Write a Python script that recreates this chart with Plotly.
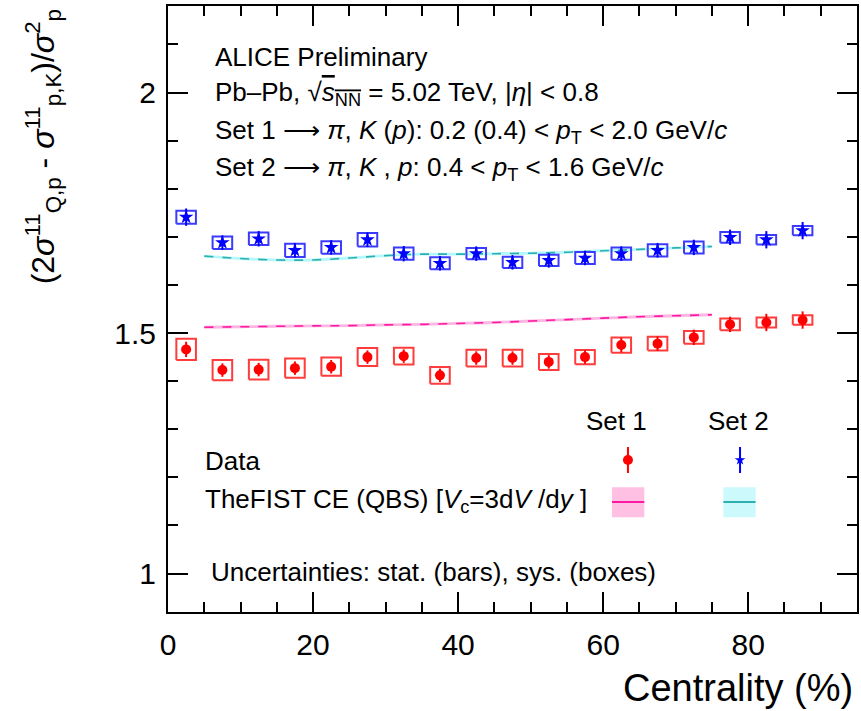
import plotly.graph_objects as go

# ---------------- data ----------------
centrality = [2.5, 7.5, 12.5, 17.5, 22.5, 27.5, 32.5, 37.5, 42.5, 47.5,
              52.5, 57.5, 62.5, 67.5, 72.5, 77.5, 82.5, 87.5]
set1_val = [1.466, 1.423, 1.424, 1.427, 1.430, 1.450, 1.452, 1.412, 1.448, 1.448,
            1.440, 1.450, 1.475, 1.478, 1.491, 1.518, 1.522, 1.527]
set1_stat = [0.016, 0.014, 0.014, 0.014, 0.014, 0.014, 0.014, 0.014, 0.014, 0.014,
             0.014, 0.014, 0.015, 0.015, 0.016, 0.016, 0.018, 0.018]
set1_sys = [0.022, 0.021, 0.0205, 0.020, 0.019, 0.0187, 0.0173, 0.0173, 0.0173, 0.0173,
            0.0166, 0.015, 0.016, 0.0145, 0.013, 0.012, 0.0104, 0.010]
set2_val = [1.741, 1.688, 1.696, 1.672, 1.678, 1.694, 1.665, 1.645, 1.665, 1.647,
            1.651, 1.656, 1.665, 1.672, 1.678, 1.699, 1.694, 1.713]
set2_stat = [0.018, 0.015, 0.016, 0.015, 0.015, 0.015, 0.016, 0.015, 0.015, 0.015,
             0.015, 0.015, 0.015, 0.015, 0.016, 0.016, 0.018, 0.018]
set2_sys = [0.0135, 0.013, 0.013, 0.0139, 0.013, 0.0139, 0.0128, 0.0125, 0.0118, 0.0118,
            0.0118, 0.0125, 0.0128, 0.0128, 0.0125, 0.011, 0.010, 0.0097]

model_cent = [5, 10, 15, 20, 25, 30, 35, 40, 45, 50, 55, 60, 65, 70, 75]
thefist_set1 = [1.512, 1.513, 1.514, 1.515, 1.5155, 1.517, 1.518, 1.520, 1.522, 1.525,
                1.528, 1.531, 1.534, 1.536, 1.538]
thefist_set2 = [1.660, 1.655, 1.652, 1.652, 1.656, 1.661, 1.664, 1.664, 1.665, 1.666,
                1.668, 1.671, 1.674, 1.677, 1.680]
thefist_unc = 0.003

# ---------------- style ----------------
FONT = "Liberation Sans, Arial, Helvetica, sans-serif"
RED, BLUE = "#ff0000", "#0000ff"
RED_BOX, BLUE_BOX = "#ff3b3b", "#3b3bff"
MAG_LINE, MAG_BAND = "#ff1aa3", "rgba(255,120,200,0.55)"
CYA_LINE, CYA_BAND = "#2fb0b0", "rgba(120,240,245,0.55)"
BOX_HW = 1.35  # half width of sys boxes (centrality units)

L, R, T, B = 168, 2, 6, 99
W, H = 861, 711
PW, PH = W - L - R, H - T - B


def px(xp):
    return (xp - L) / PW


def py(yp):
    return (H - B - yp) / PH


def boxes(xs, ys, es):
    bx, by = [], []
    for x, y, e in zip(xs, ys, es):
        bx += [x - BOX_HW, x + BOX_HW, x + BOX_HW, x - BOX_HW, x - BOX_HW, None]
        by += [y - e, y - e, y + e, y + e, y - e, None]
    return bx, by


fig = go.Figure()

# model bands
for vals, band, line in [(thefist_set1, MAG_BAND, MAG_LINE), (thefist_set2, CYA_BAND, CYA_LINE)]:
    fig.add_trace(go.Scatter(x=model_cent, y=[v + thefist_unc for v in vals], mode="lines",
                             line=dict(width=0, shape="spline"), showlegend=False, hoverinfo="skip"))
    fig.add_trace(go.Scatter(x=model_cent, y=[v - thefist_unc for v in vals], mode="lines",
                             line=dict(width=0, shape="spline"), fill="tonexty", fillcolor=band,
                             showlegend=False, hoverinfo="skip"))
    fig.add_trace(go.Scatter(x=model_cent, y=vals, mode="lines",
                             line=dict(color=line, width=1.6, dash="dash", shape="spline"),
                             showlegend=False))

# sys boxes
for vals, sys, col in [(set1_val, set1_sys, RED_BOX), (set2_val, set2_sys, BLUE_BOX)]:
    bx, by = boxes(centrality, vals, sys)
    fig.add_trace(go.Scatter(x=bx, y=by, mode="lines", line=dict(color=col, width=2),
                             showlegend=False, hoverinfo="skip"))

# data points
fig.add_trace(go.Scatter(x=centrality, y=set1_val, mode="markers",
                         marker=dict(symbol="circle", size=10, color=RED),
                         error_y=dict(type="data", array=set1_stat, color=RED, thickness=2, width=0),
                         showlegend=False))
fig.add_trace(go.Scatter(x=centrality, y=set2_val, mode="markers",
                         marker=dict(symbol="star", size=11, color=BLUE),
                         error_y=dict(type="data", array=set2_stat, color=BLUE, thickness=2, width=0),
                         showlegend=False))

# ---------------- legend glyphs on an overlay paper-like axis ----------------
leg_y = py(460)
leg_err = 13 / PH
fig.add_trace(go.Scatter(x=[px(629.3)], y=[leg_y], xaxis="x2", yaxis="y2", mode="markers",
                         marker=dict(symbol="circle", size=10, color=RED),
                         error_y=dict(type="data", array=[leg_err], color=RED, thickness=2, width=0),
                         showlegend=False))
fig.add_trace(go.Scatter(x=[px(741.7)], y=[leg_y], xaxis="x2", yaxis="y2", mode="markers",
                         marker=dict(symbol="star", size=8, color=BLUE),
                         error_y=dict(type="data", array=[leg_err], color=BLUE, thickness=2, width=0),
                         showlegend=False))
for x0, x1, band, line in [(613.3, 645.7, "rgba(255,150,210,0.6)", MAG_LINE),
                           (725.0, 757.3, "rgba(170,245,250,0.6)", CYA_LINE)]:
    fig.add_trace(go.Scatter(x=[px(x0), px(x1), px(x1), px(x0), px(x0)],
                             y=[py(487.3), py(487.3), py(517.3), py(517.3), py(487.3)],
                             xaxis="x2", yaxis="y2", mode="lines", fill="toself",
                             fillcolor=band, line=dict(width=0), showlegend=False, hoverinfo="skip"))
    fig.add_trace(go.Scatter(x=[px(x0), px(x1)], y=[py(502), py(502)], xaxis="x2", yaxis="y2",
                             mode="lines", line=dict(color=line, width=2), showlegend=False))

# ---------------- text ----------------
TS = 26
texts = [
    ("ALICE Preliminary", 213, 57, "left"),
    ("Pb–Pb, √<span style='text-decoration:overline'><i>s</i><sub>NN</sub></span> = 5.02 TeV, |<i>η</i>| &lt; 0.8", 213, 93, "left"),
    ("Set 1 ⟶ <i>π</i>, <i>K</i> (<i>p</i>): 0.2 (0.4) &lt; <i>p</i><sub>T</sub> &lt; 2.0 GeV/<i>c</i>", 213, 132, "left"),
    ("Set 2 ⟶ <i>π</i>, <i>K</i> , <i>p</i>: 0.4 &lt; <i>p</i><sub>T</sub> &lt; 1.6 GeV/<i>c</i>", 213, 168, "left"),
    ("Set 1", 618, 421, "center"),
    ("Set 2", 740, 421, "center"),
    ("Data", 203, 461, "left"),
    ("TheFIST CE (QBS) [<i>V</i><sub>c</sub>=3d<i>V</i> /d<i>y</i> ]", 203, 500, "left"),
    ("Uncertainties: stat. (bars), sys. (boxes)", 209, 572, "left"),
]
annotations = []
for t, x, y, anc in texts:
    annotations.append(dict(text=t, x=px(x), y=py(y), xref="paper", yref="paper",
                            xanchor=anc, yanchor="middle", showarrow=False,
                            font=dict(family=FONT, size=TS, color="black")))

annotations.append(dict(text="Centrality (%)", x=px(857), y=py(688), xref="paper", yref="paper",
                        xanchor="right", yanchor="middle", showarrow=False,
                        font=dict(family=FONT, size=38, color="black")))
annotations.append(dict(text="(2<i>σ</i><sup>11</sup><sub>Q,p</sub> - <i>σ</i><sup>11</sup><sub>p,K</sub>)/<i>σ</i><sup>2</sup><sub>p</sub>",
                        x=px(42), y=py(147), xref="paper", yref="paper",
                        xanchor="center", yanchor="middle", textangle=-90, showarrow=False,
                        font=dict(family=FONT, size=32, color="black")))

axis_common = dict(showline=True, linecolor="black", linewidth=2, mirror="allticks",
                   ticks="inside", tickcolor="black", tickwidth=1.5, ticklen=20,
                   showgrid=False, zeroline=False,
                   tickfont=dict(family=FONT, size=30, color="black"))

fig.update_layout(
    width=W, height=H,
    margin=dict(l=L, r=R, t=T, b=B),
    paper_bgcolor="white", plot_bgcolor="white",
    showlegend=False,
    annotations=annotations,
    xaxis=dict(range=[0, 95], dtick=20, tick0=0,
               minor=dict(dtick=5, ticks="inside", ticklen=10, tickwidth=1.5, tickcolor="black"),
               ticklabelstandoff=5, **axis_common),
    yaxis=dict(range=[0.92, 2.18], dtick=0.5, tick0=0,
               minor=dict(dtick=0.1, ticks="inside", ticklen=10, tickwidth=1.5, tickcolor="black"),
               ticklabelstandoff=4, **axis_common),
    xaxis2=dict(range=[0, 1], overlaying="x", visible=False, fixedrange=True),
    yaxis2=dict(range=[0, 1], overlaying="y", visible=False, fixedrange=True),
)

fig.write_html("out.html")
